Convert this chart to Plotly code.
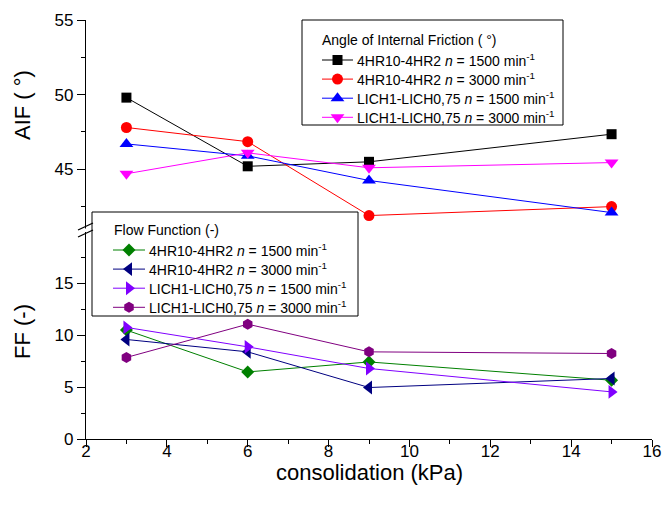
import plotly.graph_objects as go

# ---------------- data ----------------
consolidation = [3, 6, 9, 15]

aif_4hr_1500 = [49.8, 45.2, 45.5, 47.35]
aif_4hr_3000 = [47.8, 46.85, 41.9, 42.5]
aif_lich_1500 = [46.7, 45.9, 44.25, 42.1]
aif_lich_3000 = [44.7, 46.1, 45.1, 45.45]

ff_4hr_1500 = [10.47, 6.45, 7.41, 5.65]
ff_4hr_3000 = [9.57, 8.38, 4.95, 5.82]
ff_lich_1500 = [10.73, 8.86, 6.78, 4.53]
ff_lich_3000 = [7.84, 11.04, 8.38, 8.22]

series_names = [
    "4HR10-4HR2 <i>n</i> = 1500 min<sup>-1</sup>",
    "4HR10-4HR2 <i>n</i> = 3000 min<sup>-1</sup>",
    "LICH1-LICH0,75 <i>n</i> = 1500 min<sup>-1</sup>",
    "LICH1-LICH0,75 <i>n</i> = 3000 min<sup>-1</sup>",
]
aif_legend_title = "Angle of Internal Friction ( °)"
ff_legend_title = "Flow Function (-)"

x_ticks = [2, 4, 6, 8, 10, 12, 14, 16]
aif_ticks = [45, 50, 55]
ff_ticks = [0, 5, 10, 15]

# ---------------- layout constants ----------------
W, H = 663, 508
L, R, T, B = 86, 11, 20, 69
PW, PH = W - L - R, H - T - B
FONT = "Arial, Liberation Sans, sans-serif"


def px_to_paper(px, py):
    return (px - L) / PW, (H - B - py) / PH


top_dom_lo = px_to_paper(0, 229)[1]
bot_dom_hi = px_to_paper(0, 231)[1]

fig = go.Figure()

aif_series = [aif_4hr_1500, aif_4hr_3000, aif_lich_1500, aif_lich_3000]
aif_colors = ["#000000", "#FF0000", "#0000FF", "#FF00FF"]
aif_symbols = ["square", "circle", "triangle-up", "triangle-down"]
aif_sizes = [10, 11, 12, 12]

ff_series = [ff_4hr_1500, ff_4hr_3000, ff_lich_1500, ff_lich_3000]
ff_colors = ["#008000", "#000080", "#8000FF", "#800080"]
ff_symbols = ["diamond", "triangle-left", "triangle-right", "hexagon"]
ff_sizes = [10, 12, 12, 11]

for ys, c, s, sz, n in zip(aif_series, aif_colors, aif_symbols, aif_sizes, series_names):
    fig.add_trace(go.Scatter(
        x=consolidation, y=ys, mode="lines+markers", name=n, showlegend=False,
        line=dict(color=c, width=1),
        marker=dict(symbol=s, size=sz, color=c, line=dict(width=0)),
        xaxis="x", yaxis="y2",
    ))

for ys, c, s, sz, n in zip(ff_series, ff_colors, ff_symbols, ff_sizes, series_names):
    fig.add_trace(go.Scatter(
        x=consolidation, y=ys, mode="lines+markers", name=n, showlegend=False,
        line=dict(color=c, width=1),
        marker=dict(symbol=s, size=sz, color=c, line=dict(width=0)),
        xaxis="x", yaxis="y",
    ))

# ---------------- hand-drawn legends (pixel overlay axes) ----------------
LEG_FONT = dict(family=FONT, size=14, color="black")
ROW = 19.1
annotations = []
shapes = []


def rect_px(x0, y0, x1, y1, **kw):
    a, b = px_to_paper(x0, y0)
    c, d = px_to_paper(x1, y1)
    return dict(type="rect", xref="paper", yref="paper",
                x0=a, y0=d, x1=c, y1=b, **kw)


def add_legend(box, title_xy, first_row_y, line_x0, line_x1, text_x,
               title, names, colors, symbols, sizes):
    shapes.append(rect_px(*box, fillcolor="white",
                          line=dict(color="black", width=1), layer="below"))
    px, py = px_to_paper(*title_xy)
    annotations.append(dict(text=title, x=px, y=py, xref="paper", yref="paper",
                            xanchor="left", yanchor="middle", showarrow=False,
                            font=LEG_FONT))
    for i, (n, c, s, sz) in enumerate(zip(names, colors, symbols, sizes)):
        yy = first_row_y + i * ROW
        fig.add_trace(go.Scatter(
            x=[line_x0, line_x1], y=[yy, yy], mode="lines", showlegend=False,
            hoverinfo="skip", line=dict(color=c, width=1),
            xaxis="x3", yaxis="y3"))
        fig.add_trace(go.Scatter(
            x=[(line_x0 + line_x1) / 2], y=[yy], mode="markers",
            showlegend=False, hoverinfo="skip",
            marker=dict(symbol=s, size=sz, color=c, line=dict(width=0)),
            xaxis="x3", yaxis="y3"))
        tx_, ty_ = px_to_paper(text_x, yy)
        annotations.append(dict(text=n, x=tx_, y=ty_, xref="paper", yref="paper",
                                xanchor="left", yanchor="middle", showarrow=False,
                                font=LEG_FONT))


add_legend((302, 20, 563, 125), (320, 40), 60, 322, 353, 355,
           aif_legend_title, series_names, aif_colors, aif_symbols, aif_sizes)
add_legend((92, 212, 358, 316), (112, 230.5), 250, 113, 145, 147,
           ff_legend_title, series_names, ff_colors, ff_symbols, ff_sizes)

# ---------------- axis break slashes ----------------
shapes.append(rect_px(83, 228.5, 89, 232, fillcolor="white",
                      line=dict(width=0), layer="above"))
for cyp in (226.5, 233.5):
    x0, y0 = px_to_paper(78, cyp + 3.5)
    x1, y1 = px_to_paper(93, cyp - 3.5)
    shapes.append(dict(type="line", xref="paper", yref="paper",
                       x0=x0, y0=y0, x1=x1, y1=y1,
                       line=dict(color="black", width=1.3), layer="above"))

# ---------------- axis titles ----------------
title_font = dict(family=FONT, size=22, color="black")
for text, (ax, ay), ang in [("AIF ( °)", (22, 105), -90),
                            ("FF (-)", (22, 332), -90),
                            ("consolidation (kPa)", (369, 472), 0)]:
    px, py = px_to_paper(ax, ay)
    annotations.append(dict(text=text, x=px, y=py, xref="paper", yref="paper",
                            xanchor="center", yanchor="middle", showarrow=False,
                            textangle=ang, font=title_font))

axis_common = dict(
    showline=True, linecolor="black", linewidth=1.3,
    ticks="outside", tickwidth=1.3, tickcolor="black",
    showgrid=False, zeroline=False, automargin=False,
    tickfont=dict(family=FONT, size=17, color="black"),
)
minor_common = dict(ticklen=4, tickcolor="black", tickwidth=1.3, ticks="outside")

fig.update_layout(
    width=W, height=H, autosize=False,
    margin=dict(l=L, r=R, t=T, b=B, pad=0, autoexpand=False),
    paper_bgcolor="white", plot_bgcolor="rgba(0,0,0,0)",
    xaxis=dict(range=[2, 16], tickvals=x_ticks, anchor="y", ticklen=7,
               ticklabelstandoff=-11,
               minor=dict(tickvals=[3, 5, 7, 9, 11, 13, 15], **minor_common),
               **axis_common),
    yaxis=dict(domain=[0, bot_dom_hi], range=[0, 20], tickvals=ff_ticks,
               anchor="x", ticklen=8,
               minor=dict(tickvals=[2.5, 7.5, 12.5, 17.5], **minor_common),
               **axis_common),
    yaxis2=dict(domain=[top_dom_lo, 1], range=[41, 55], tickvals=aif_ticks,
                anchor="x", ticklen=8,
                minor=dict(tickvals=[42.5, 47.5, 52.5], **minor_common),
                **axis_common),
    xaxis3=dict(domain=[0, 1], anchor="y3", range=[L, W - R], visible=False,
                fixedrange=True),
    yaxis3=dict(domain=[0, 1], anchor="x3", range=[H - B, T], visible=False,
                fixedrange=True),
    shapes=shapes,
    annotations=annotations,
    showlegend=False,
)

fig.write_html("out.html", config={"displayModeBar": False},
               post_script="document.body.style.margin='0';")
